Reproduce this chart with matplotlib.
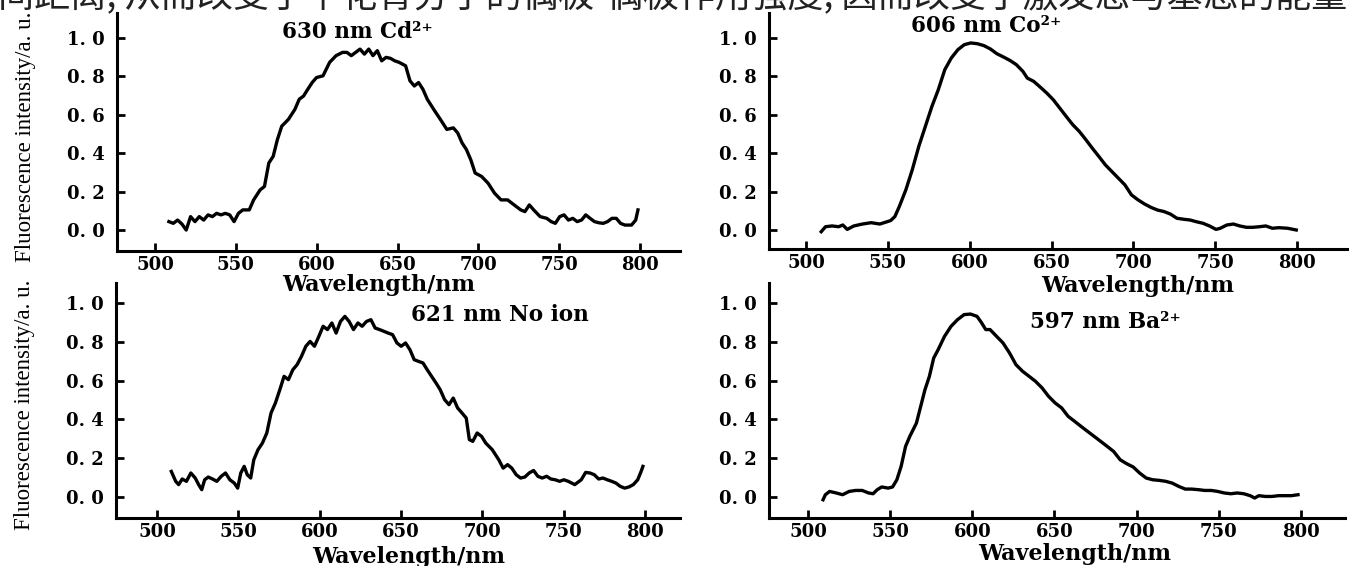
import matplotlib
matplotlib.use('Agg')
import matplotlib.pyplot as plt
from matplotlib.ticker import FuncFormatter

# 630 nm Cd2+
wl_cd = [508.6, 511.3, 514.0, 516.7, 519.3, 522.0, 524.7, 527.4, 530.1, 532.8, 535.5, 538.1,
         540.8, 543.5, 546.2, 548.9, 551.6, 554.3, 558.3, 561.0, 565.0, 567.7, 570.4, 573.1,
         575.7, 578.4, 582.5, 586.5, 589.2, 591.9, 594.5, 597.2, 599.9, 603.9, 608.0, 612.0,
         616.0, 618.7, 621.4, 624.1, 626.8, 629.5, 632.2, 634.8, 637.5, 640.2, 642.9, 645.6,
         648.3, 651.0, 655.0, 657.7, 660.4, 663.0, 665.7, 668.4, 672.4, 676.5, 680.5, 684.5,
         687.2, 689.9, 692.6, 695.3, 698.0, 702.0, 706.0, 710.0, 714.0, 718.1, 722.1, 726.2,
         728.8, 731.5, 734.2, 738.2, 742.3, 745.0, 747.6, 750.3, 753.0, 755.7, 758.4, 761.1,
         763.8, 766.4, 769.1, 771.8, 774.5, 777.2, 779.9, 782.6, 785.3, 787.9, 790.6, 794.7,
         797.3, 798.7]
int_cd = [0.044, 0.035, 0.052, 0.031, 0.000, 0.070, 0.044, 0.070, 0.052, 0.079, 0.070, 0.087,
          0.079, 0.087, 0.079, 0.044, 0.087, 0.105, 0.105, 0.157, 0.209, 0.227, 0.349, 0.384,
          0.471, 0.541, 0.576, 0.628, 0.681, 0.698, 0.733, 0.768, 0.794, 0.803, 0.873, 0.908,
          0.925, 0.925, 0.908, 0.925, 0.942, 0.916, 0.942, 0.908, 0.934, 0.881, 0.899, 0.894,
          0.881, 0.873, 0.855, 0.777, 0.750, 0.768, 0.733, 0.681, 0.628, 0.576, 0.524, 0.532,
          0.506, 0.454, 0.419, 0.366, 0.297, 0.279, 0.244, 0.192, 0.157, 0.157, 0.131, 0.105,
          0.096, 0.131, 0.105, 0.070, 0.061, 0.044, 0.035, 0.070, 0.079, 0.052, 0.061, 0.044,
          0.052, 0.079, 0.061, 0.044, 0.038, 0.035, 0.044, 0.061, 0.061, 0.035, 0.026, 0.026,
          0.052, 0.105]

# 606 nm Co2+
wl_co = [509.3, 511.9, 515.9, 519.9, 522.5, 525.2, 529.2, 534.5, 539.8, 545.1, 547.7, 551.7,
         554.3, 557.0, 561.0, 564.9, 568.9, 572.9, 576.9, 580.8, 584.8, 588.8, 592.8, 596.7,
         600.7, 604.7, 608.7, 612.6, 616.6, 620.6, 624.6, 628.5, 632.5, 635.2, 639.1, 643.1,
         647.1, 651.1, 655.0, 659.0, 663.0, 667.0, 671.0, 674.9, 678.9, 682.9, 686.9, 690.8,
         694.8, 698.8, 702.8, 706.7, 710.7, 714.7, 718.7, 722.6, 726.6, 730.6, 734.6, 738.5,
         742.5, 746.5, 750.5, 753.1, 757.1, 761.1, 765.0, 769.0, 773.0, 777.0, 780.9, 784.9,
         788.9, 794.2, 799.5]
int_co = [-0.009, 0.017, 0.021, 0.017, 0.026, 0.003, 0.021, 0.031, 0.038, 0.031, 0.038, 0.049,
          0.070, 0.122, 0.209, 0.313, 0.435, 0.539, 0.643, 0.730, 0.835, 0.896, 0.939, 0.965,
          0.974, 0.970, 0.960, 0.943, 0.918, 0.901, 0.883, 0.861, 0.826, 0.791, 0.774, 0.744,
          0.713, 0.678, 0.635, 0.591, 0.548, 0.513, 0.470, 0.426, 0.383, 0.339, 0.304, 0.270,
          0.235, 0.183, 0.157, 0.136, 0.118, 0.104, 0.096, 0.083, 0.061, 0.056, 0.052, 0.043,
          0.035, 0.021, 0.003, 0.009, 0.026, 0.031, 0.021, 0.014, 0.014, 0.017, 0.021, 0.009,
          0.012, 0.009, 0.000]

# 621 nm, no ion
wl_no = [508.8, 511.5, 513.3, 515.5, 518.1, 520.8, 523.5, 525.6, 527.5, 529.3, 531.5, 534.1,
         536.8, 539.5, 542.1, 544.8, 547.5, 549.6, 551.5, 553.6, 555.5, 557.6, 559.5, 562.1,
         564.8, 567.5, 570.1, 572.8, 575.5, 578.1, 580.8, 583.5, 586.1, 588.8, 591.5, 594.1,
         596.8, 599.5, 602.1, 604.8, 607.5, 610.1, 612.8, 615.5, 618.1, 620.8, 623.5, 626.1,
         628.8, 631.5, 634.1, 636.8, 639.5, 642.1, 644.8, 647.5, 650.1, 652.8, 655.5, 658.1,
         660.8, 663.5, 666.1, 668.8, 671.5, 674.1, 676.8, 679.5, 682.1, 684.8, 687.5, 690.1,
         692.0, 694.1, 696.8, 699.5, 702.1, 706.1, 710.1, 712.8, 715.5, 718.1, 720.8, 723.5,
         726.1, 728.8, 731.5, 734.1, 736.8, 739.5, 742.1, 744.8, 747.5, 750.1, 752.8, 756.8,
         760.8, 763.5, 766.1, 768.8, 771.5, 774.1, 776.8, 779.5, 782.1, 784.8, 787.5, 790.1,
         792.8, 795.5, 797.6, 798.7]
int_no = [0.132, 0.081, 0.064, 0.093, 0.081, 0.124, 0.098, 0.064, 0.038, 0.089, 0.103, 0.093,
          0.081, 0.107, 0.124, 0.089, 0.072, 0.046, 0.124, 0.158, 0.115, 0.098, 0.192, 0.244,
          0.278, 0.330, 0.433, 0.485, 0.553, 0.622, 0.605, 0.656, 0.682, 0.725, 0.777, 0.802,
          0.777, 0.828, 0.880, 0.863, 0.897, 0.845, 0.905, 0.931, 0.905, 0.863, 0.897, 0.880,
          0.905, 0.914, 0.871, 0.863, 0.854, 0.845, 0.837, 0.794, 0.777, 0.794, 0.759, 0.708,
          0.699, 0.691, 0.656, 0.622, 0.588, 0.553, 0.502, 0.476, 0.510, 0.459, 0.433, 0.407,
          0.296, 0.287, 0.330, 0.313, 0.278, 0.244, 0.192, 0.149, 0.167, 0.149, 0.115, 0.098,
          0.103, 0.124, 0.137, 0.107, 0.098, 0.107, 0.093, 0.089, 0.081, 0.089, 0.081, 0.064,
          0.089, 0.127, 0.124, 0.115, 0.093, 0.098, 0.089, 0.081, 0.072, 0.055, 0.046, 0.052,
          0.064, 0.089, 0.132, 0.158]

# 597 nm Ba2+
wl_ba = [509.2, 510.6, 513.2, 517.2, 521.1, 525.1, 529.0, 533.0, 536.9, 539.6, 542.2, 544.9,
         548.8, 551.5, 554.1, 556.7, 559.4, 562.0, 566.0, 568.6, 571.2, 573.9, 576.5, 579.2,
         583.1, 587.1, 591.0, 595.0, 598.9, 602.9, 605.5, 608.2, 610.8, 614.8, 618.7, 622.7,
         626.6, 630.6, 634.6, 638.5, 642.5, 646.4, 650.4, 654.4, 658.3, 662.3, 666.2, 670.2,
         674.1, 678.1, 682.1, 686.0, 690.0, 693.9, 697.9, 701.8, 705.8, 709.8, 713.7, 717.7,
         721.6, 725.6, 729.6, 733.5, 737.5, 741.4, 745.4, 749.3, 753.3, 757.3, 761.2, 765.2,
         769.1, 771.8, 774.4, 778.4, 782.3, 786.3, 790.2, 794.2, 798.2]
int_ba = [-0.014, 0.012, 0.029, 0.021, 0.012, 0.029, 0.034, 0.034, 0.021, 0.017, 0.038, 0.052,
          0.046, 0.052, 0.089, 0.158, 0.261, 0.313, 0.381, 0.467, 0.553, 0.622, 0.716, 0.759,
          0.828, 0.880, 0.914, 0.940, 0.943, 0.931, 0.900, 0.863, 0.863, 0.828, 0.794, 0.742,
          0.682, 0.648, 0.622, 0.596, 0.562, 0.519, 0.485, 0.459, 0.416, 0.390, 0.364, 0.338,
          0.313, 0.287, 0.261, 0.235, 0.192, 0.172, 0.155, 0.124, 0.098, 0.089, 0.086, 0.081,
          0.072, 0.055, 0.041, 0.041, 0.038, 0.034, 0.034, 0.029, 0.021, 0.017, 0.021, 0.017,
          0.007, -0.005, 0.007, 0.003, 0.003, 0.007, 0.007, 0.007, 0.012]

x_ticks = [500, 550, 600, 650, 700, 750, 800]
y_ticks = [0.0, 0.2, 0.4, 0.6, 0.8, 1.0]
titles = ['630 nm Cd²⁺', '606 nm Co²⁺', '621 nm No ion', '597 nm Ba²⁺']
x_label = 'Wavelength/nm'
y_label = 'Fluorescence intensity/a. u.'
caption = '间距离, 从而改变了半花青分子的偶极-偶极作用强度, 因而改变了激发态与基态的能量差'

W, H = 1349, 566
fig = plt.figure(figsize=(W / 100, H / 100), dpi=100)

# panel layout in pixels: left, bottom, width, height, xlim, ylim, title pos, xlabel pos
panels = [
    dict(rect=(117, 251, 563, 238), xlim=(476.5, 824.7), ylim=(-0.109, 1.13),
         tpos=(625, 1.03), xlab=(0.465, -0.142), ylab=True),
    dict(rect=(769, 249, 578, 236), xlim=(477.4, 830.5), ylim=(-0.099, 1.13),
         tpos=(610, 1.06), xlab=(0.637, -0.155), ylab=False),
    dict(rect=(116, 518, 564, 235), xlim=(474.8, 821.5), ylim=(-0.108, 1.103),
         tpos=(711, 0.94), xlab=(0.518, -0.165), ylab=True),
    dict(rect=(769, 518, 576, 235), xlim=(476.3, 826.8), ylim=(-0.108, 1.103),
         tpos=(681, 0.90), xlab=(0.531, -0.152), ylab=False),
]
series = [(wl_cd, int_cd), (wl_co, int_co), (wl_no, int_no), (wl_ba, int_ba)]

fmt = FuncFormatter(lambda v, p: f'{v:.1f}'.replace('.', '. '))

for p, (wl, inten), title in zip(panels, series, titles):
    l, b, w, h = p['rect']
    ax = fig.add_axes([l / W, (H - b) / H, w / W, h / H])
    ax.patch.set_visible(False)
    ax.plot(wl, inten, color='black', lw=2.4)
    ax.set_xlim(*p['xlim'])
    ax.set_ylim(*p['ylim'])
    ax.set_xticks(x_ticks)
    ax.set_yticks(y_ticks)
    ax.yaxis.set_major_formatter(fmt)
    for s in ['top', 'right']:
        ax.spines[s].set_visible(False)
    for s in ['left', 'bottom']:
        ax.spines[s].set_linewidth(2.2)
    ax.tick_params(direction='in', length=6, width=2)
    ax.tick_params(axis='y', pad=9)
    ax.tick_params(axis='x', pad=3.5)
    for lab in ax.get_xticklabels() + ax.get_yticklabels():
        lab.set_fontfamily('DejaVu Serif')
        lab.set_fontweight('bold')
        lab.set_fontsize(13)
    ax.text(p['tpos'][0], p['tpos'][1], title, ha='center', va='center',
            fontsize=15.5, family='DejaVu Serif', fontweight='semibold')
    ax.set_xlabel(x_label, fontsize=16, family='DejaVu Serif', fontweight='bold', va='center')
    ax.xaxis.set_label_coords(*p['xlab'])
    if p['ylab']:
        ax.set_ylabel(y_label, fontsize=16.5, family='Liberation Serif', va='center')
        ax.yaxis.set_label_coords(-0.162, 0.48)

fig.text(-2 / W, 1.0 + 3 / H, caption, ha='left', va='center', fontsize=26, color='#222222',
         family=['Noto Sans CJK SC', 'DejaVu Sans'])

fig.savefig('out.png', dpi=100)
